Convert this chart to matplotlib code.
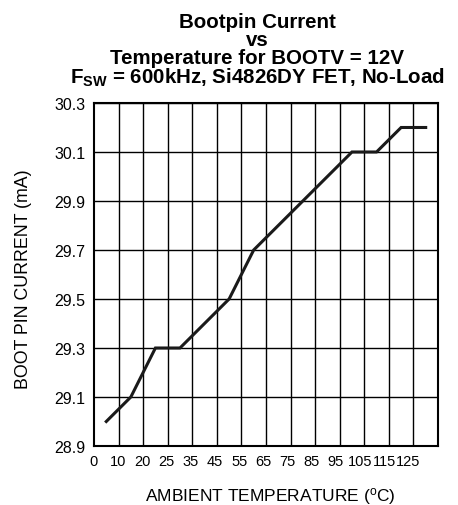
import numpy as np
import matplotlib.pyplot as plt

plt.rcParams["font.family"] = ["Liberation Sans", "DejaVu Sans"]
plt.rcParams["mathtext.fontset"] = "custom"
plt.rcParams["mathtext.rm"] = "Liberation Sans"
plt.rcParams["mathtext.bf"] = "Liberation Sans:bold"

# ---- data ----
temperature = [5, 15, 25, 35, 45, 55, 65, 75, 85, 95, 105, 115, 125, 135]
boot_current = [29.0, 29.1, 29.3, 29.3, 29.4, 29.5, 29.7, 29.8, 29.9, 30.0,
                30.1, 30.1, 30.2, 30.2]
x_labels = ["0", "10", "20", "25", "35", "45", "55", "65", "75", "85", "95",
            "105", "115", "125"]
y_ticks = [28.9, 29.1, 29.3, 29.5, 29.7, 29.9, 30.1, 30.3]

fig = plt.figure(figsize=(4.58, 5.06), dpi=100)
ax = fig.add_axes([0.2052, 0.1166, 0.7511, 0.6779])

ax.plot(temperature, boot_current, color="#1a1a1a", lw=2.2,
        solid_joinstyle="miter", zorder=3)

ax.set_xlim(0, 140)
ax.set_ylim(28.9, 30.3)
# vertical grid every 10 degrees; labels sit slightly compressed as in the original
ax.set_xticks(np.arange(0, 141, 10), minor=True)
ax.set_xticks(np.linspace(0, 128, len(x_labels)))
ax.set_xticklabels(x_labels)
ax.set_yticks(y_ticks)
ax.set_yticklabels([f"{v:.1f}" for v in y_ticks])
ax.grid(True, which="minor", axis="x", color="black", lw=1.0)
ax.grid(True, axis="y", color="black", lw=1.0)
ax.tick_params(which="both", length=0, pad=5)
ax.tick_params(axis="y", labelsize=11.5, pad=6)
ax.tick_params(axis="x", labelsize=10.5, pad=6)
for s in ax.spines.values():
    s.set_linewidth(1.5)

ax.set_xlabel("AMBIENT TEMPERATURE ($\\mathregular{^o}$C)", fontsize=12.5)
ax.xaxis.set_label_coords(0.512, -0.115)
ax.set_ylabel("BOOT PIN CURRENT (mA)", fontsize=12.8)
ax.yaxis.set_label_coords(-0.18, 0.49)

title = ("Bootpin Current\nvs\nTemperature for BOOTV = 12V\n"
         "F$_{\\mathbf{SW}}$ = 600kHz, Si4826DY FET, No-Load")
fig.text(257 / 458, 1 - 83.5 / 506, title, ha="center", va="baseline",
         fontsize=14.8, fontweight="bold", linespacing=0.93,
         multialignment="center")

fig.savefig("out.png", dpi=100)
